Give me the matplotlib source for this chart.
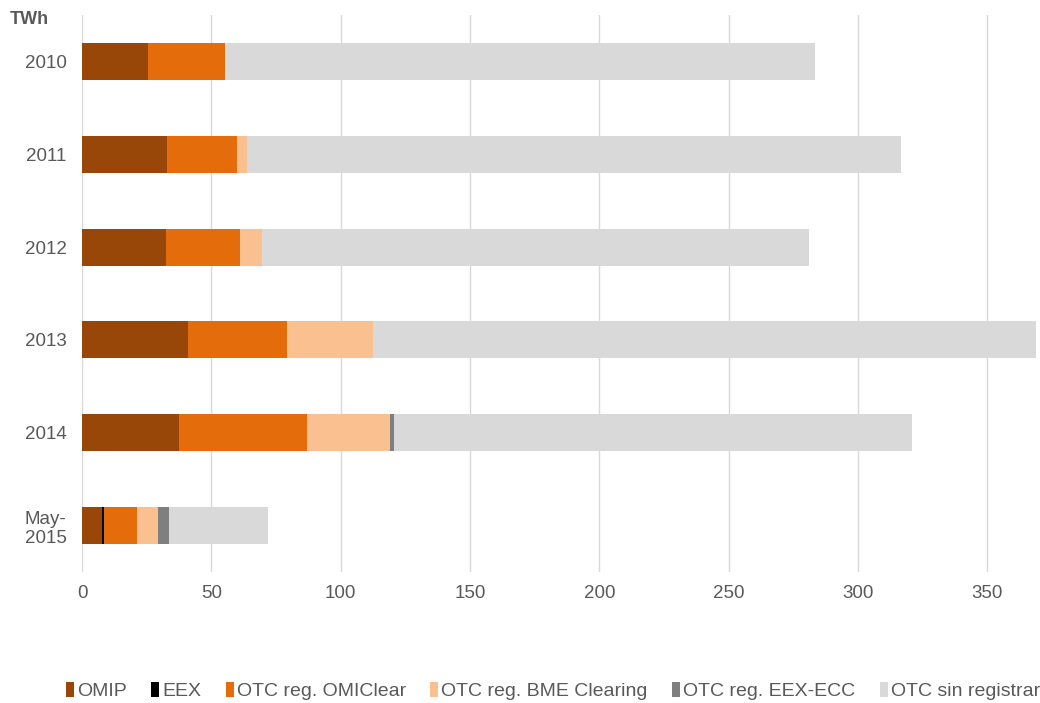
import matplotlib
matplotlib.use("Agg")
from matplotlib import pyplot as plt
import numpy as np

plt.rcParams["font.family"] = ["Liberation Sans", "DejaVu Sans"]

years = ["2010", "2011", "2012", "2013", "2014", "May-\n2015"]

omip = [25.7, 33.0, 32.6, 41.1, 37.6, 7.9]
eex = [0.0, 0.0, 0.0, 0.0, 0.0, 0.7]
otc_omiclear = [29.4, 27.0, 28.6, 38.3, 49.5, 12.5]
otc_bme = [0.0, 3.9, 8.4, 33.3, 32.1, 8.4]
otc_eex_ecc = [0.0, 0.0, 0.0, 0.0, 1.5, 4.3]
otc_sin_registrar = [228.4, 252.9, 211.3, 256.3, 200.1, 38.2]

series = [
    ("OMIP", omip, "#994708"),
    ("EEX", eex, "#000000"),
    ("OTC reg. OMIClear", otc_omiclear, "#e46c0a"),
    ("OTC reg. BME Clearing", otc_bme, "#fac090"),
    ("OTC reg. EEX-ECC", otc_eex_ecc, "#7f7f7f"),
    ("OTC sin registrar", otc_sin_registrar, "#d9d9d9"),
]

text_color = "#595959"

fig = plt.figure(figsize=(10.40, 7.03), dpi=100)
ax = fig.add_axes([82 / 1040, 131 / 703, 957 / 1040, 557 / 703])

y = np.arange(len(years))
left = np.zeros(len(years))
for name, vals, color in series:
    vals = np.array(vals)
    ax.barh(y, vals, left=left, height=0.4, color=color, label=name, linewidth=0, zorder=3)
    left += vals

ax.set_ylim(len(years) - 0.5, -0.5)
ax.set_xlim(0, 370)
ax.set_xticks(np.arange(0, 351, 50))
ax.set_yticks(y)
ax.set_yticklabels(years)

ax.grid(axis="x", color="#d9d9d9", linewidth=1, zorder=0)
for s in ax.spines.values():
    s.set_visible(False)
ax.tick_params(axis="both", length=0, labelsize=13.5, colors=text_color)
ax.tick_params(axis="y", pad=11)
ax.tick_params(axis="x", pad=9)
for lbl in ax.get_yticklabels():
    lbl.set_horizontalalignment("right")
    lbl.set_multialignment("left")

fig.text(10 / 1040, 1 - 20 / 703, "TWh", fontsize=13, fontweight="bold",
         color=text_color, va="center", ha="left")

fig.legend(loc="center", bbox_to_anchor=(553 / 1040, 1 - 691 / 703), ncol=6, frameon=False,
           fontsize=14, handlelength=0.42, handleheight=0.85, handletextpad=0.15,
           columnspacing=1.25, labelcolor=text_color)

fig.savefig("out.png", dpi=100)
